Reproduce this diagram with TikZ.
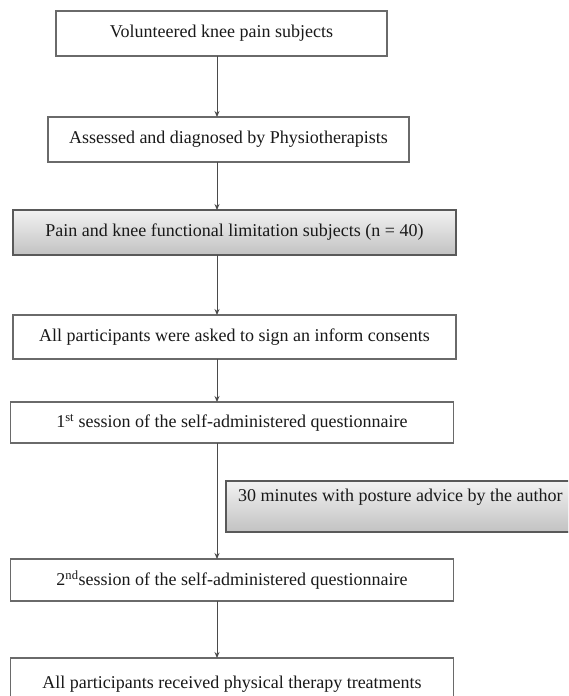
\documentclass[tikz,border=0pt]{standalone}
\usepackage{fontspec}
\setmainfont{Liberation Serif}
\usetikzlibrary{arrows.meta,shadows}
\definecolor{edge}{HTML}{6A6A6A}
\definecolor{lineclr}{HTML}{4A4A4A}
\tikzset{
  wbox/.style={draw=edge, line width=1.2pt, fill=white, anchor=north west, inner sep=0pt, outer sep=0pt,
    font=\fontsize{18}{21}\selectfont, text=black!90},
  gbox/.style={wbox, draw=black!65, top color=white!95!black, bottom color=black!24,
    drop shadow={shadow xshift=1.2pt, shadow yshift=-1.2pt, fill=black!45, opacity=0.6}},
  arr/.style={draw=lineclr, line width=0.9pt, -{Stealth[length=6pt,width=5pt]}},
}
\begin{document}
\begin{tikzpicture}[x=1pt,y=-1pt]
\clip (0,0) rectangle (568,696);
\fill[white] (0,0) rectangle (568,696);
\coordinate (ax) at (217,0);
\node[wbox, minimum width=331, minimum height=45] (b1) at (56,11) {Volunteered knee pain subjects};
\node[wbox, minimum width=361, minimum height=45] (b2) at (48,117) {Assessed and diagnosed by Physiotherapists};
\node[gbox, minimum width=443, minimum height=45] (b3) at (13,210) {Pain and knee functional limitation subjects (n = 40)};
\node[wbox, minimum width=443, minimum height=44] (b4) at (13,315) {All participants were asked to sign an inform consents};
\node[wbox, minimum width=443, minimum height=41] (b5) at (10.5,402) {1\textsuperscript{st} session of the self-administered questionnaire};
\node[gbox, minimum width=400, minimum height=51] (b6) at (226,481) {};
\node[anchor=base west, inner sep=0pt, font=\fontsize{18}{21}\selectfont, text=black!90] (b6t) at ([xshift=12pt,yshift=-20pt]b6.north west) {30 minutes with posture advice by the author};
\node[wbox, minimum width=443, minimum height=42] (b7) at (10.5,559) {2\textsuperscript{nd}session of the self-administered questionnaire};
\node[wbox, minimum width=443, minimum height=52] (b8) at (10.5,658) {All participants received physical therapy treatments};
\draw[arr] (b1.south -| ax) -- (b2.north -| ax);
\draw[arr] (b2.south -| ax) -- (b3.north -| ax);
\draw[arr] (b3.south -| ax) -- (b4.north -| ax);
\draw[arr] (b4.south -| ax) -- (b5.north -| ax);
\draw[arr] (b5.south -| ax) -- (b7.north -| ax);
\draw[arr] (b7.south -| ax) -- (b8.north -| ax);
\end{tikzpicture}
\end{document}
